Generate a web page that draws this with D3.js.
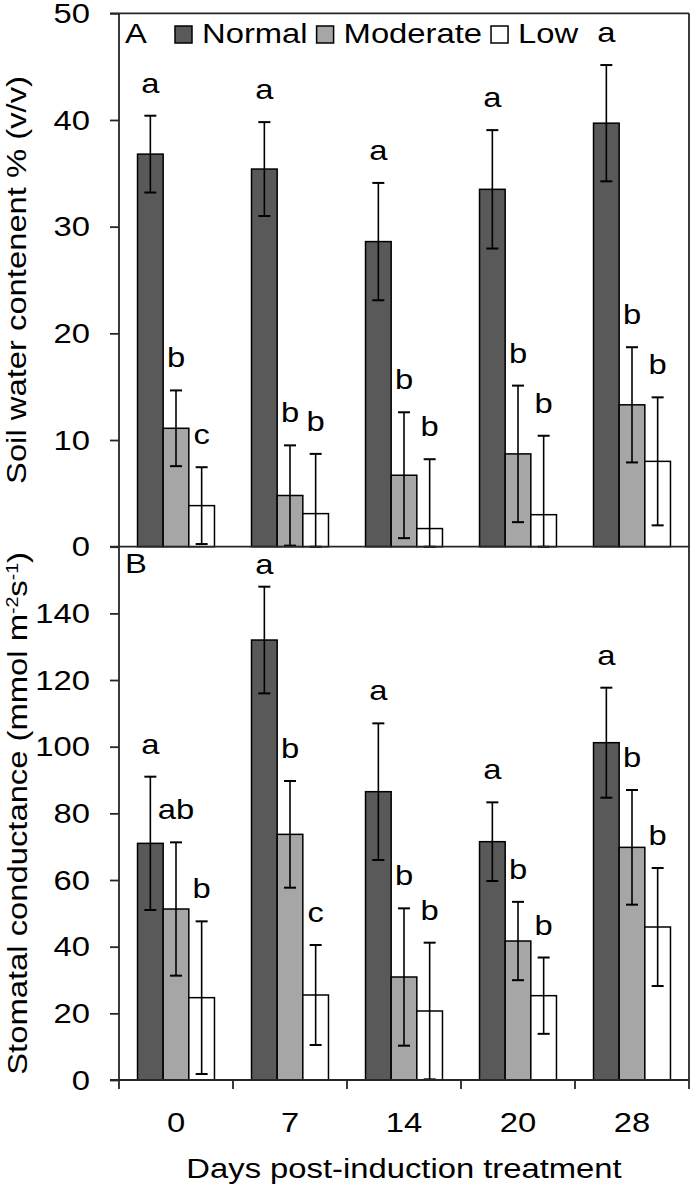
<!DOCTYPE html>
<html>
<head>
<meta charset="utf-8">
<script src="https://cdn.jsdelivr.net/npm/d3@7"></script>
<style>
  html, body { margin: 0; padding: 0; background: #fff; }
  svg { display: block; }
</style>
</head>
<body>
<div id="chart"></div>
<script>
// ---------- data ----------
const days = ["0", "7", "14", "20", "28"];
const series = ["Normal", "Moderate", "Low"];

// Panel A: Soil water content % (v/v)
const swcNormal   = [36.8, 35.4, 28.6, 33.5, 39.7];
const swcNormalErr = [3.6, 4.4, 5.5, 5.55, 5.45];
const swcModerate = [11.1, 4.8, 6.7, 8.7, 13.3];
const swcModerateErr = [3.55, 4.7, 5.9, 6.4, 5.4];
const swcLow      = [3.85, 3.1, 1.7, 3.0, 8.0];
const swcLowErr   = [3.6, 5.6, 6.5, 7.4, 6.0];
const swcLettersNormal   = ["a", "a", "a", "a", "a"];
const swcLettersModerate = ["b", "b", "b", "b", "b"];
const swcLettersLow      = ["c", "b", "b", "b", "b"];
const swcTicks = [0, 10, 20, 30, 40, 50];

// Panel B: Stomatal conductance (mmol m-2 s-1)
const gsNormal   = [71.0, 132.0, 86.5, 71.5, 101.2];
const gsNormalErr = [20.0, 16.0, 20.5, 11.8, 16.5];
const gsModerate = [51.3, 73.7, 30.9, 41.7, 69.8];
const gsModerateErr = [20.0, 16.0, 20.6, 11.75, 17.2];
const gsLow      = [24.7, 25.5, 20.7, 25.3, 45.9];
const gsLowErr   = [22.9, 15.0, 20.5, 11.45, 17.7];
const gsLettersNormal   = ["a", "a", "a", "a", "a"];
const gsLettersModerate = ["ab", "b", "b", "b", "b"];
const gsLettersLow      = ["b", "c", "b", "b", "b"];
const gsTicks = [0, 20, 40, 60, 80, 100, 120, 140];

// ---------- style ----------
const W = 691, H = 1185;
const FS = 28.5, SX = 1.15;
const FONT = "'Liberation Sans', Arial, Helvetica, sans-serif";
const colors = { Normal: "#595959", Moderate: "#a6a6a6", Low: "#ffffff" };
const axisColor = "#262626";

const left = 119, right = 689;
const topA = 13.3, botA = 546.7, botB = 1080;

const svg = d3.select("#chart").append("svg")
  .attr("width", W).attr("height", H)
  .attr("font-family", FONT);

const x = d3.scaleBand().domain(days).range([left, right]).padding(0);
const groupPad = x.bandwidth() * (1 - 0.675) / 2;
const xs = d3.scaleBand().domain(series)
  .range([groupPad, x.bandwidth() - groupPad]).padding(0);

const yA = d3.scaleLinear().domain([0, 50]).range([botA, topA]);
const yB = d3.scaleLinear().domain([0, 160]).range([botB, botA]);

// horizontally stretched text helper
function stext(parent, px, py, str, anchor, rot) {
  const g = parent.append("g")
    .attr("transform", `translate(${px},${py})` + (rot ? " rotate(-90)" : "") + ` scale(${SX},1)`);
  return g.append("text")
    .attr("text-anchor", anchor || "start")
    .attr("font-size", FS)
    .attr("fill", "#000")
    .text(str);
}

function drawPanel(y, panelTop, panelBot, vals, errs, letters, ticks) {
  const g = svg.append("g");
  series.forEach((s, si) => {
    const data = days.map((d, i) => ({ d, v: vals[si][i], e: errs[si][i], l: letters[si][i] }));
    g.selectAll(null).data(data).enter().append("rect")
      .attr("x", p => x(p.d) + xs(s))
      .attr("width", xs.bandwidth())
      .attr("y", p => y(p.v))
      .attr("height", p => y(0) - y(p.v))
      .attr("fill", colors[s])
      .attr("stroke", "#000")
      .attr("stroke-width", 1.5);
    const cap = 6;
    data.forEach(p => {
      const cx = x(p.d) + xs(s) + xs.bandwidth() / 2;
      const yt = y(p.v + p.e), yb = y(Math.max(0, p.v - p.e));
      g.append("line").attr("x1", cx).attr("x2", cx).attr("y1", yt).attr("y2", yb)
        .attr("stroke", "#000").attr("stroke-width", 1.6);
      [yt, yb].forEach(yy => g.append("line")
        .attr("x1", cx - cap).attr("x2", cx + cap).attr("y1", yy).attr("y2", yy)
        .attr("stroke", "#000").attr("stroke-width", 2));
      const base = Math.max(yt - 23, panelTop + 27);
      stext(g, cx, base, p.l, "middle");
    });
  });
  const ax = g.append("g").attr("transform", `translate(${left},0)`)
    .call(d3.axisLeft(y).tickValues(ticks).tickSize(9).tickSizeOuter(0).tickPadding(20).tickFormat(d3.format("d")));
  ax.select(".domain").attr("stroke", axisColor).attr("stroke-width", 1.8)
    .attr("d", `M0,${panelBot}V${panelTop}`);
  ax.selectAll(".tick line").attr("stroke", axisColor).attr("stroke-width", 1.8);
  ax.selectAll(".tick text")
    .attr("font-size", FS).attr("font-family", FONT).attr("fill", "#000")
    .attr("x", -29 / SX)
    .attr("transform", `scale(${SX},1)`);
  return g;
}

drawPanel(yA, topA, botA,
  [swcNormal, swcModerate, swcLow],
  [swcNormalErr, swcModerateErr, swcLowErr],
  [swcLettersNormal, swcLettersModerate, swcLettersLow], swcTicks);

drawPanel(yB, botA, botB,
  [gsNormal, gsModerate, gsLow],
  [gsNormalErr, gsModerateErr, gsLowErr],
  [gsLettersNormal, gsLettersModerate, gsLettersLow], gsTicks);

// frame lines
const frame = svg.append("g").attr("stroke", axisColor).attr("stroke-width", 1.8);
frame.append("line").attr("x1", left - 9).attr("x2", right).attr("y1", topA).attr("y2", topA);
frame.append("line").attr("x1", left - 9).attr("x2", right).attr("y1", botA).attr("y2", botA);
frame.append("line").attr("x1", left - 9).attr("x2", right).attr("y1", botB).attr("y2", botB);
frame.append("line").attr("x1", right).attr("x2", right).attr("y1", topA).attr("y2", botB);

// x axis (bottom): labels at band centres, ticks at band edges
const xa = svg.append("g").attr("transform", `translate(0,${botB})`)
  .call(d3.axisBottom(x).tickSize(0).tickPadding(31.5));
xa.select(".domain").remove();
xa.selectAll(".tick text")
  .attr("font-size", FS).attr("font-family", FONT).attr("fill", "#000")
  .attr("transform", `scale(${SX},1)`);
const edges = days.map(d => x(d)).concat([x.range()[1]]);
svg.append("g").selectAll("line").data(edges).enter().append("line")
  .attr("x1", d => d).attr("x2", d => d)
  .attr("y1", botB).attr("y2", botB + 9)
  .attr("stroke", axisColor).attr("stroke-width", 1.8);

// axis titles
stext(svg, (left + right) / 2, 1178, "Days post-induction treatment", "middle");
stext(svg, 26, (topA + botA) / 2, "Soil water contenent % (v/v)", "middle", true);
const tB = stext(svg, 27, (botA + botB) / 2, "", "middle", true);
tB.append("tspan").text("Stomatal conductance (mmol m");
tB.append("tspan").attr("font-size", 17).attr("dy", -9).text("-2");
tB.append("tspan").attr("dy", 9).text("s");
tB.append("tspan").attr("font-size", 17).attr("dy", -9).text("-1");
tB.append("tspan").attr("dy", 9).text(")");

// panel letters
stext(svg, 125, 43, "A", "start");
stext(svg, 125, 573, "B", "start");

// legend
const leg = svg.append("g");
let lx = 175;
const sw = 17, legBase = 43;
series.forEach(s => {
  leg.append("rect").attr("x", lx).attr("y", legBase - sw).attr("width", sw).attr("height", sw)
    .attr("fill", colors[s]).attr("stroke", "#000").attr("stroke-width", 1.5);
  const t = stext(leg, lx + 27, legBase, s, "start");
  const w = t.node().getComputedTextLength() * SX;
  lx = lx + 27 + w + 9;
});
</script>
</body>
</html>
